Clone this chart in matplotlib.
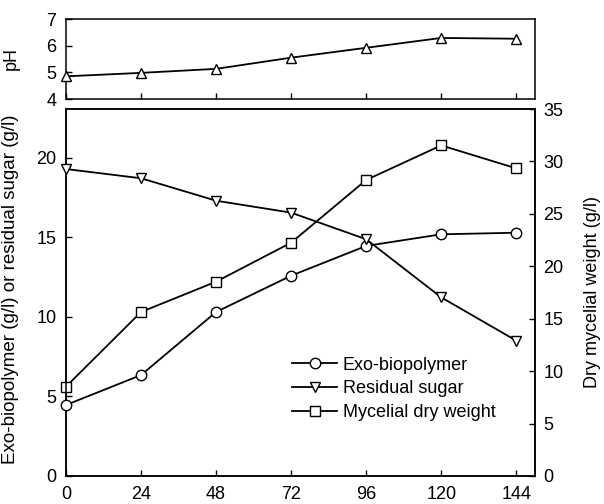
import matplotlib
matplotlib.use("Agg")
import matplotlib.pyplot as plt

plt.rcParams['font.family'] = ['Liberation Sans', 'DejaVu Sans']

hours = [0, 24, 48, 72, 96, 120, 144]
ph = [4.85, 4.98, 5.13, 5.55, 5.92, 6.29, 6.26]
exo_biopolymer = [4.46, 6.34, 10.30, 12.58, 14.45, 15.18, 15.28]
residual_sugar = [19.28, 18.70, 17.29, 16.54, 14.87, 11.22, 8.50]
mycelial_dry_weight = [8.52, 15.64, 18.53, 22.25, 28.23, 31.53, 29.34]
x_ticks = [0, 24, 48, 72, 96, 120, 144]

fig = plt.figure(figsize=(6.04, 5.04), dpi=100)
L, W = 66 / 604, 469 / 604
ax_ph = fig.add_axes([L, 1 - 99 / 504, W, 80 / 504])
ax = fig.add_axes([L, 1 - 476 / 504, W, 367 / 504])
ax2 = ax.twinx()

fs = 13
lw = 1.3
ms = 7.5
mk = dict(color='black', lw=lw, markerfacecolor='white', markeredgecolor='black',
          markeredgewidth=1.0, clip_on=False, zorder=3)

ax_ph.plot(hours, ph, marker='^', ms=ms, **mk)
ax_ph.set_xlim(0, 150)
ax_ph.set_ylim(4, 7)
ax_ph.set_yticks([4, 5, 6, 7])
ax_ph.set_xticks(x_ticks)
ax_ph.tick_params(axis='x', labelbottom=False)
ax_ph.set_ylabel('pH', fontsize=fs)
ax_ph.yaxis.set_label_coords(-0.098, 0.5)

l1, = ax.plot(hours, exo_biopolymer, marker='o', ms=ms, label='Exo-biopolymer', **mk)
l2, = ax.plot(hours, residual_sugar, marker='v', ms=ms, label='Residual sugar', **mk)
l3, = ax2.plot(hours, mycelial_dry_weight, marker='s', ms=7, label='Mycelial dry weight', **mk)

ax.set_xlim(0, 150)
ax.set_ylim(0, 23.05)
ax.set_yticks([0, 5, 10, 15, 20])
ax.set_xticks(x_ticks)
ax2.set_ylim(0, 35)
ax2.set_yticks([0, 5, 10, 15, 20, 25, 30, 35])

ax.set_ylabel('Exo-biopolymer (g/l) or residual sugar (g/l)', fontsize=13.5)
ax.yaxis.set_label_coords(-0.100, 0.51)
ax2.set_ylabel('Dry mycelial weight (g/l)', fontsize=fs)
ax2.yaxis.set_label_coords(1.105, 0.50)

for a in (ax_ph, ax, ax2):
    a.tick_params(direction='in', length=4, width=1.0, labelsize=fs)
    for s in a.spines.values():
        s.set_linewidth(1.1)
ax_ph.tick_params(axis='y', pad=7)
ax.tick_params(axis='y', pad=7)
ax.tick_params(axis='x', pad=7.5)
ax2.tick_params(axis='y', pad=6)

leg = ax.legend(handles=[l1, l2, l3], loc='upper left', bbox_to_anchor=(0.467, 0.345),
                frameon=False, fontsize=fs, handlelength=2.5, handletextpad=0.3,
                labelspacing=0.38, borderaxespad=0)
ax.set_zorder(ax2.get_zorder() + 1)
ax.patch.set_visible(False)

fig.savefig('out.png', dpi=100)
